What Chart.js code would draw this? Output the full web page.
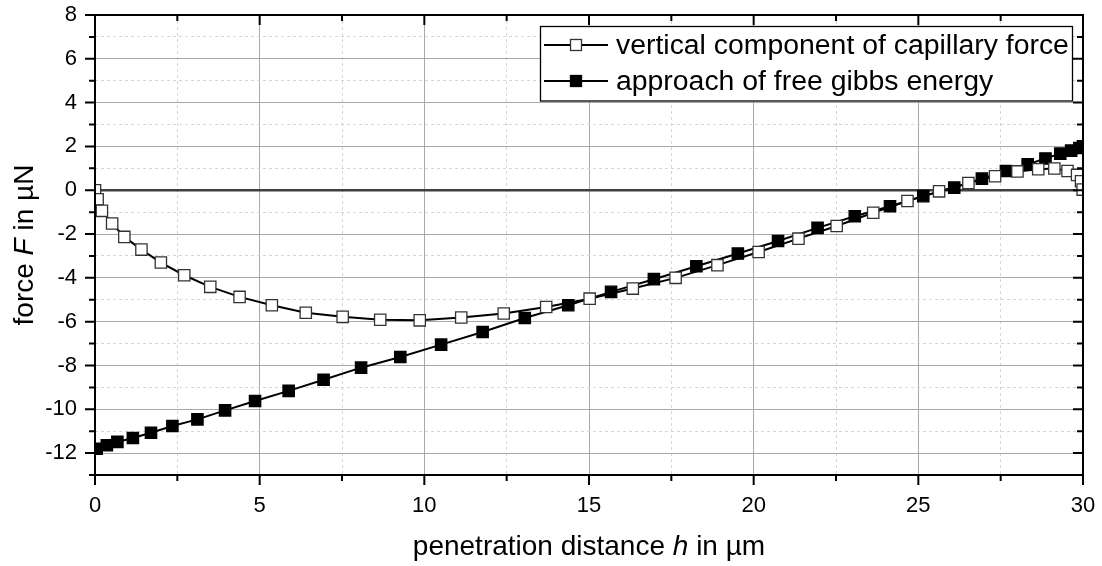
<!DOCTYPE html>
<html>
<head>
<meta charset="utf-8">
<script src="https://cdn.jsdelivr.net/npm/chart.js@4.4.1/dist/chart.umd.min.js"></script>
<style>
html,body{margin:0;padding:0;background:#fff;}
#wrap{width:1102px;height:566px;position:relative;}
</style>
</head>
<body>
<div id="wrap"><canvas id="c" width="1102" height="566"></canvas></div>
<script>
// ---- data ----
const capX = [0, 0.08, 0.21, 0.52, 0.89, 1.41, 2.0, 2.71, 3.50, 4.39, 5.37, 6.40, 7.52, 8.66, 9.86, 11.12, 12.41, 13.70, 15.02, 16.33, 17.63, 18.90, 20.15, 21.36, 22.52, 23.63, 24.67, 25.63, 26.52, 27.33, 28.01, 28.64, 29.13, 29.53, 29.82, 29.94, 29.99];
const capY = [0, -0.41, -0.94, -1.52, -2.13, -2.71, -3.30, -3.88, -4.41, -4.87, -5.25, -5.59, -5.78, -5.91, -5.94, -5.81, -5.63, -5.33, -4.95, -4.49, -4.00, -3.42, -2.82, -2.21, -1.63, -1.03, -0.49, -0.05, 0.33, 0.64, 0.86, 0.96, 0.99, 0.88, 0.70, 0.41, 0.03];
const gibX = [0.05, 0.36, 0.68, 1.15, 1.70, 2.35, 3.11, 3.95, 4.86, 5.88, 6.94, 8.08, 9.27, 10.51, 11.77, 13.05, 14.37, 15.67, 16.97, 18.26, 19.52, 20.74, 21.94, 23.07, 24.14, 25.15, 26.09, 26.93, 27.66, 28.32, 28.86, 29.31, 29.64, 29.89, 30.0];
const gibY = [-11.80, -11.64, -11.49, -11.31, -11.07, -10.76, -10.46, -10.05, -9.62, -9.16, -8.65, -8.10, -7.61, -7.05, -6.47, -5.83, -5.25, -4.64, -4.06, -3.47, -2.89, -2.32, -1.72, -1.19, -0.73, -0.27, 0.12, 0.53, 0.88, 1.18, 1.45, 1.67, 1.81, 1.93, 2.00];
const seriesNames = ["vertical component of capillary force", "approach of free gibbs energy"];
const xRange = [0, 30], xMajor = 5, xMinor = 2.5;
const yRange = [-13, 8], yMajor = 2, yMinor = 1;
const yTitleParts = [["force ", false], ["F", true], [" in µN", false]];
const xTitleParts = [["penetration distance ", false], ["h", true], [" in µm", false]];

const FONT = "'Liberation Sans', Arial, sans-serif";
const toPts = (xs, ys) => xs.map((x, i) => ({x: x, y: ys[i]}));
const isMajor = (v, step) => Math.abs(v / step - Math.round(v / step)) < 1e-6;

const framePlugin = {
  id: 'frame',
  afterDraw(chart) {
    const ctx = chart.ctx, a = chart.chartArea;
    const xs = chart.scales.x, ys = chart.scales.y;
    ctx.save();
    // frame
    ctx.strokeStyle = '#000'; ctx.lineWidth = 2;
    ctx.strokeRect(a.left, a.top, a.right - a.left, a.bottom - a.top);
    // ticks
    ctx.lineWidth = 2;
    ctx.beginPath();
    for (let v = xRange[0]; v <= xRange[1] + 1e-9; v += xMinor) {
      const p = xs.getPixelForValue(v);
      const L = isMajor(v, xMajor) ? 10 : 6;
      ctx.moveTo(p, a.bottom); ctx.lineTo(p, a.bottom + L);
      ctx.moveTo(p, a.top); ctx.lineTo(p, a.top + L);
    }
    for (let v = yRange[0]; v <= yRange[1] + 1e-9; v += yMinor) {
      const p = ys.getPixelForValue(v);
      const L = isMajor(v, yMajor) ? 10 : 6;
      ctx.moveTo(a.left, p); ctx.lineTo(a.left - L, p);
      ctx.moveTo(a.right, p); ctx.lineTo(a.right - L, p);
    }
    ctx.stroke();

    // legend
    const bx = 540.5, by = 26.5, bw = 532, bh = 74.5;
    ctx.fillStyle = '#fff';
    ctx.fillRect(bx, by, bw, bh);
    ctx.strokeStyle = '#000'; ctx.lineWidth = 1.3;
    ctx.strokeRect(bx, by, bw, bh);
    const rows = [45, 81];
    chart.data.datasets.forEach((ds, i) => {
      const yy = rows[i];
      ctx.strokeStyle = '#000'; ctx.lineWidth = 2;
      ctx.beginPath(); ctx.moveTo(544, yy); ctx.lineTo(608, yy); ctx.stroke();
      const s = 11;
      ctx.fillStyle = ds.pointBackgroundColor;
      ctx.fillRect(576 - s / 2, yy - s / 2, s, s);
      ctx.strokeStyle = ds.pointBorderColor; ctx.lineWidth = 1.3;
      ctx.strokeRect(576 - s / 2, yy - s / 2, s, s);
      ctx.fillStyle = '#000';
      ctx.font = "28.4px " + FONT;
      ctx.textBaseline = 'middle'; ctx.textAlign = 'left';
      ctx.fillText(ds.label, 616, yy + 1);
    });

    // axis titles with italic symbols
    const drawParts = (parts) => {
      let total = 0;
      parts.forEach(([t, it]) => { ctx.font = (it ? 'italic ' : '') + "28px " + FONT; total += ctx.measureText(t).width; });
      let x = -total / 2;
      parts.forEach(([t, it]) => { ctx.font = (it ? 'italic ' : '') + "28px " + FONT; ctx.fillText(t, x, 0); x += ctx.measureText(t).width; });
    };
    ctx.fillStyle = '#000'; ctx.textAlign = 'left'; ctx.textBaseline = 'alphabetic';
    ctx.save();
    ctx.translate((a.left + a.right) / 2, 555);
    drawParts(xTitleParts);
    ctx.restore();
    ctx.save();
    ctx.translate(33, (a.top + a.bottom) / 2);
    ctx.rotate(-Math.PI / 2);
    drawParts(yTitleParts);
    ctx.restore();
    ctx.restore();
  }
};

new Chart(document.getElementById('c'), {
  type: 'line',
  data: {
    datasets: [
      {
        label: seriesNames[0],
        data: toPts(capX, capY),
        borderColor: '#000', borderWidth: 2,
        pointStyle: 'rect', pointRadius: 8,
        pointBackgroundColor: '#fff', pointBorderColor: '#333', pointBorderWidth: 1.3,
        tension: 0, fill: false
      },
      {
        label: seriesNames[1],
        data: toPts(gibX, gibY),
        borderColor: '#000', borderWidth: 2,
        pointStyle: 'rect', pointRadius: 8,
        pointBackgroundColor: '#000', pointBorderColor: '#000', pointBorderWidth: 1.3,
        tension: 0, fill: false
      }
    ]
  },
  options: {
    responsive: false,
    animation: false,
    layout: {padding: {left: 0, top: 15, right: 19, bottom: 0}},
    plugins: {legend: {display: false}, tooltip: {enabled: false}},
    scales: {
      x: {
        type: 'linear', min: xRange[0], max: xRange[1],
        afterFit: s => { s.height = 91; s.paddingLeft = 0; s.paddingRight = 0; },
        afterBuildTicks: s => {
          const t = [];
          for (let v = xRange[0]; v <= xRange[1] + 1e-9; v += xMinor) t.push({value: v});
          s.ticks = t;
        },
        ticks: {
          autoSkip: false, maxRotation: 0, padding: 18,
          color: '#000', font: {family: FONT, size: 22},
          callback: v => isMajor(v, xMajor) ? String(v) : ''
        },
        grid: {
          drawTicks: false,
          color: c => {
            const v = c.tick.value;
            if (v <= xRange[0] || v >= xRange[1]) return 'rgba(0,0,0,0)';
            return isMajor(v, xMajor) ? '#a8a8a8' : '#d6d6d6';
          },
          lineWidth: 1
        },
        border: {display: false, dash: c => isMajor(c.tick.value, xMajor) ? [] : [3, 3]}
      },
      y: {
        type: 'linear', min: yRange[0], max: yRange[1],
        afterFit: s => { s.width = 95; s.paddingTop = 0; s.paddingBottom = 0; },
        afterBuildTicks: s => {
          const t = [];
          for (let v = yRange[0]; v <= yRange[1] + 1e-9; v += yMinor) t.push({value: v});
          s.ticks = t;
        },
        ticks: {
          autoSkip: false, padding: 18,
          color: '#000', font: {family: FONT, size: 22},
          callback: v => isMajor(v, yMajor) ? String(v) : ''
        },
        grid: {
          drawTicks: false,
          color: c => {
            const v = c.tick.value;
            if (v <= yRange[0] || v >= yRange[1]) return 'rgba(0,0,0,0)';
            if (Math.abs(v) < 1e-9) return '#404040';
            return isMajor(v, yMajor) ? '#a8a8a8' : '#d6d6d6';
          },
          lineWidth: c => Math.abs(c.tick.value) < 1e-9 ? 2.5 : 1
        },
        border: {display: false, dash: c => isMajor(c.tick.value, yMajor) ? [] : [3, 3]}
      }
    }
  },
  plugins: [framePlugin]
});
</script>
</body>
</html>
